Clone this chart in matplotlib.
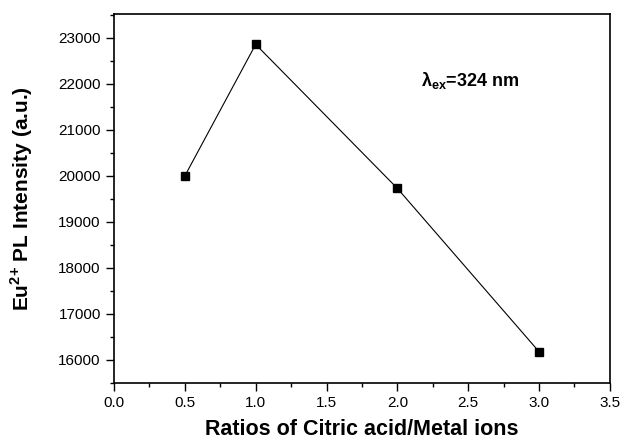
import matplotlib
matplotlib.use('Agg')
import matplotlib.pyplot as plt
from matplotlib.ticker import MultipleLocator

plt.rcParams['font.family'] = ['Liberation Sans', 'DejaVu Sans']
plt.rcParams['mathtext.fontset'] = 'custom'
plt.rcParams['mathtext.rm'] = 'Liberation Sans'
plt.rcParams['mathtext.bf'] = 'Liberation Sans:bold'

ratios = [0.5, 1.0, 2.0, 3.0]
intensity = [20000, 22860, 19730, 16180]

fig = plt.figure(figsize=(6.35, 4.44), dpi=100)
ax = fig.add_axes([0.1795, 0.1374, 0.781, 0.831])

ax.plot(ratios, intensity, color='black', lw=0.8, marker='s', ms=5.5,
        markerfacecolor='black')

ax.set_xlim(0, 3.5)
ax.set_ylim(15500, 23520)
ax.xaxis.set_major_locator(MultipleLocator(0.5))
ax.xaxis.set_minor_locator(MultipleLocator(0.25))
ax.yaxis.set_major_locator(MultipleLocator(1000))
ax.yaxis.set_minor_locator(MultipleLocator(500))
ax.xaxis.set_major_formatter(plt.FormatStrFormatter('%.1f'))

ax.tick_params(which='both', direction='out', top=False, right=False,
               labelsize=11, width=1)
ax.tick_params(which='major', length=6)
ax.tick_params(which='minor', length=3)
for s in ax.spines.values():
    s.set_linewidth(1.2)

ax.set_xlabel('Ratios of Citric acid/Metal ions', fontsize=15.5,
              fontweight='bold', labelpad=6)
ax.set_ylabel(r'Eu$^{\mathbf{2{+}}}$ PL Intensity (a.u.)', fontsize=15,
              fontweight='bold', labelpad=17)

ax.text(2.17, 21950, r'$\mathbf{\lambda}_{\mathbf{ex}}$=324 nm', fontsize=13,
        fontweight='bold')

fig.savefig('out.png', dpi=100)
